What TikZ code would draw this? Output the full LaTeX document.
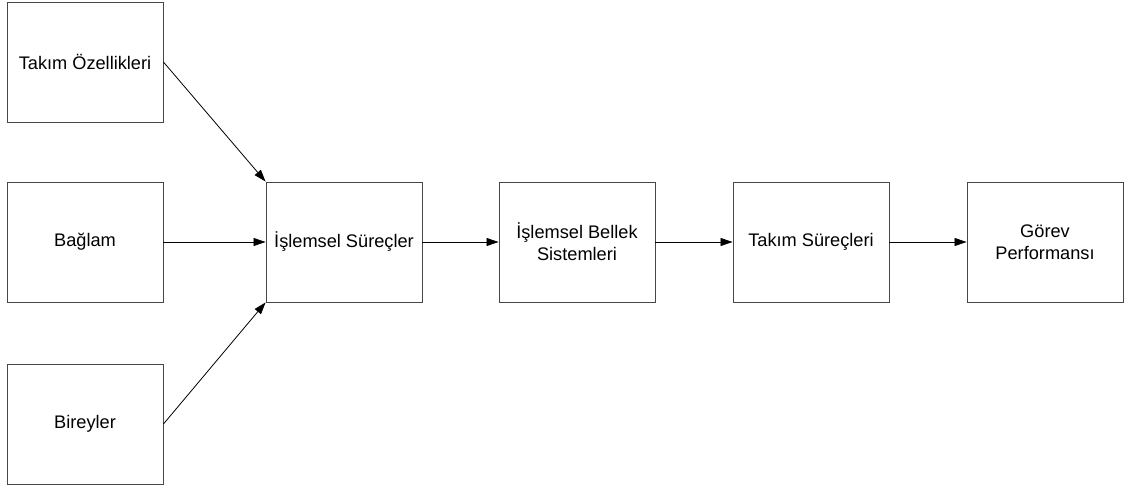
\documentclass[tikz,border=0pt]{standalone}
\usepackage{fontspec}
\setmainfont{Liberation Sans}
\usetikzlibrary{arrows.meta}
\begin{document}
\begin{tikzpicture}[x=1pt,y=-1pt,
  blk/.style={draw=black!72,line width=0.9pt,minimum width=156pt,minimum height=120pt,
    inner sep=2pt,align=center,font=\fontsize{18.2}{22}\selectfont},
  link/.style={draw=black,line width=0.8pt,-{Triangle[length=12pt,width=8pt]}}]
\useasboundingbox (0,0) rectangle (1126,486);
% input boxes
\node[blk] (ozel) at (85,62) {Takım Özellikleri};
\node[blk] (baglam) at (85,242) {Bağlam};
\node[blk] (birey) at (85,424) {Bireyler};
% process chain
\node[blk] (islem) at (344,242) {İşlemsel Süreçler};
\node[blk] (bellek) at (577,242) {İşlemsel Bellek\\Sistemleri};
\node[blk] (takim) at (811,242) {Takım Süreçleri};
\node[blk] (gorev) at (1045,242) {Görev\\Performansı};
% connectors
\draw[link] (ozel.east) -- (islem.north west);
\draw[link] (baglam.east) -- (islem.west);
\draw[link] (birey.east) -- (islem.south west);
\draw[link] (islem.east) -- (bellek.west);
\draw[link] (bellek.east) -- (takim.west);
\draw[link] (takim.east) -- (gorev.west);
\end{tikzpicture}
\end{document}
